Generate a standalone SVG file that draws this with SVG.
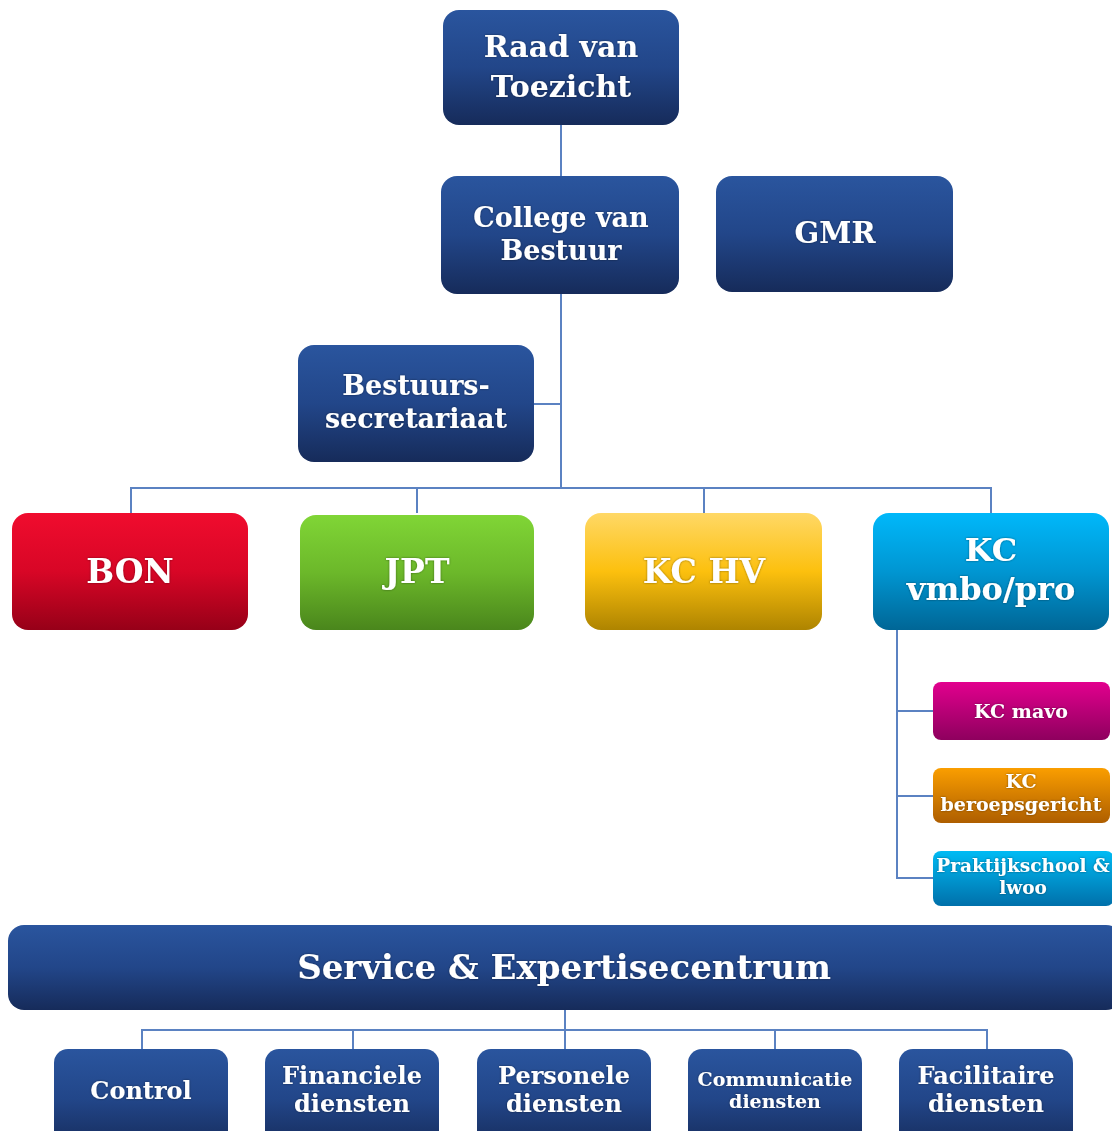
<svg xmlns="http://www.w3.org/2000/svg" width="1112" height="1131" viewBox="0 0 1112 1131">
<defs>
<linearGradient id="gBlue" x1="0" y1="0" x2="0" y2="1"><stop offset="0" stop-color="#2a559e"/><stop offset="0.5" stop-color="#224689"/><stop offset="1" stop-color="#162b5a"/></linearGradient>
<linearGradient id="gRed" x1="0" y1="0" x2="0" y2="1"><stop offset="0" stop-color="#f00c2e"/><stop offset="0.5" stop-color="#d80626"/><stop offset="1" stop-color="#960018"/></linearGradient>
<linearGradient id="gGreen" x1="0" y1="0" x2="0" y2="1"><stop offset="0" stop-color="#80d536"/><stop offset="0.5" stop-color="#6cb82a"/><stop offset="1" stop-color="#4a861c"/></linearGradient>
<linearGradient id="gYellow" x1="0" y1="0" x2="0" y2="1"><stop offset="0" stop-color="#ffd866"/><stop offset="0.5" stop-color="#fcc00e"/><stop offset="1" stop-color="#ae8400"/></linearGradient>
<linearGradient id="gCyan" x1="0" y1="0" x2="0" y2="1"><stop offset="0" stop-color="#00b8fa"/><stop offset="0.5" stop-color="#0096d2"/><stop offset="1" stop-color="#006696"/></linearGradient>
<linearGradient id="gMagenta" x1="0" y1="0" x2="0" y2="1"><stop offset="0" stop-color="#e2008e"/><stop offset="1" stop-color="#8e005e"/></linearGradient>
<linearGradient id="gOrange" x1="0" y1="0" x2="0" y2="1"><stop offset="0" stop-color="#fa9e00"/><stop offset="1" stop-color="#ae5e00"/></linearGradient>
<linearGradient id="gSky" x1="0" y1="0" x2="0" y2="1"><stop offset="0" stop-color="#00bbf4"/><stop offset="1" stop-color="#0070aa"/></linearGradient>
<filter id="ts" x="-10%" y="-30%" width="120%" height="160%"><feDropShadow dx="0" dy="0" stdDeviation="1.2" flood-color="#000" flood-opacity="0.45"/></filter>
</defs>
<style>
text{font-family:"DejaVu Serif","Liberation Serif",serif;font-weight:bold;fill:#ffffff;text-anchor:middle;filter:url(#ts)}
.conn{stroke:#5b82c2;stroke-width:2;fill:none}
</style>
<g id="connectors">
<path class="conn" d="M561 125V176M561 294V488M534 404H561M131 513V488H991V513M417 488V513M704 488V513"/>
<path class="conn" d="M897 630V878H933M897 711H933M897 796H933"/>
<path class="conn" d="M565 1010V1049M142 1050V1030H987V1050M353 1030V1050M775 1030V1050"/>
</g>
<g id="raad"><rect x="443" y="10" width="236" height="115" rx="16" fill="url(#gBlue)"/><text x="561" y="57" font-size="30">Raad van</text><text x="561" y="97" font-size="30">Toezicht</text></g>
<g id="college"><rect x="441" y="176" width="238" height="118" rx="16" fill="url(#gBlue)"/><text x="561" y="227" font-size="27">College van</text><text x="561" y="260" font-size="27">Bestuur</text></g>
<g id="gmr"><rect x="716" y="176" width="237" height="116" rx="16" fill="url(#gBlue)"/><text x="835" y="243" font-size="29">GMR</text></g>
<g id="secretariaat"><rect x="298" y="345" width="236" height="117" rx="16" fill="url(#gBlue)"/><text x="416" y="395" font-size="27">Bestuurs-</text><text x="416" y="428" font-size="27">secretariaat</text></g>
<g id="bon"><rect x="12" y="513" width="236" height="117" rx="16" fill="url(#gRed)"/><text x="130" y="583" font-size="33">BON</text></g>
<g id="jpt"><rect x="300" y="515" width="234" height="115" rx="16" fill="url(#gGreen)"/><text x="417" y="583" font-size="33">JPT</text></g>
<g id="kchv"><rect x="585" y="513" width="237" height="117" rx="16" fill="url(#gYellow)"/><text x="704" y="583" font-size="33">KC HV</text></g>
<g id="kcvmbo"><rect x="873" y="513" width="236" height="117" rx="16" fill="url(#gCyan)"/><text x="991" y="561" font-size="32">KC</text><text x="991" y="600" font-size="32">vmbo/pro</text></g>
<g id="kcmavo"><rect x="933" y="682" width="177" height="58" rx="8" fill="url(#gMagenta)"/><text x="1021" y="718" font-size="19">KC mavo</text></g>
<g id="kcberoeps"><rect x="933" y="768" width="177" height="55" rx="8" fill="url(#gOrange)"/><text x="1021" y="788" font-size="19">KC</text><text x="1021" y="811" font-size="19">beroepsgericht</text></g>
<g id="praktijk"><rect x="933" y="851" width="181" height="55" rx="8" fill="url(#gSky)"/><text x="1023" y="872" font-size="18.5">Praktijkschool &amp;</text><text x="1023" y="894" font-size="18.5">lwoo</text></g>
<g id="service"><rect x="8" y="925" width="1114" height="85" rx="16" fill="url(#gBlue)"/><text x="564" y="979" font-size="34">Service &amp; Expertisecentrum</text></g>
<g id="control"><rect x="54" y="1049" width="174" height="100" rx="14" fill="url(#gBlue)"/><text x="141" y="1099" font-size="24">Control</text></g>
<g id="financiele"><rect x="265" y="1049" width="174" height="100" rx="14" fill="url(#gBlue)"/><text x="352" y="1084" font-size="24">Financiele</text><text x="352" y="1112" font-size="24">diensten</text></g>
<g id="personele"><rect x="477" y="1049" width="174" height="100" rx="14" fill="url(#gBlue)"/><text x="564" y="1084" font-size="24">Personele</text><text x="564" y="1112" font-size="24">diensten</text></g>
<g id="communicatie"><rect x="688" y="1049" width="174" height="100" rx="14" fill="url(#gBlue)"/><text x="775" y="1086" font-size="19">Communicatie</text><text x="775" y="1108" font-size="19">diensten</text></g>
<g id="facilitaire"><rect x="899" y="1049" width="174" height="100" rx="14" fill="url(#gBlue)"/><text x="986" y="1084" font-size="24">Facilitaire</text><text x="986" y="1112" font-size="24">diensten</text></g>
</svg>
